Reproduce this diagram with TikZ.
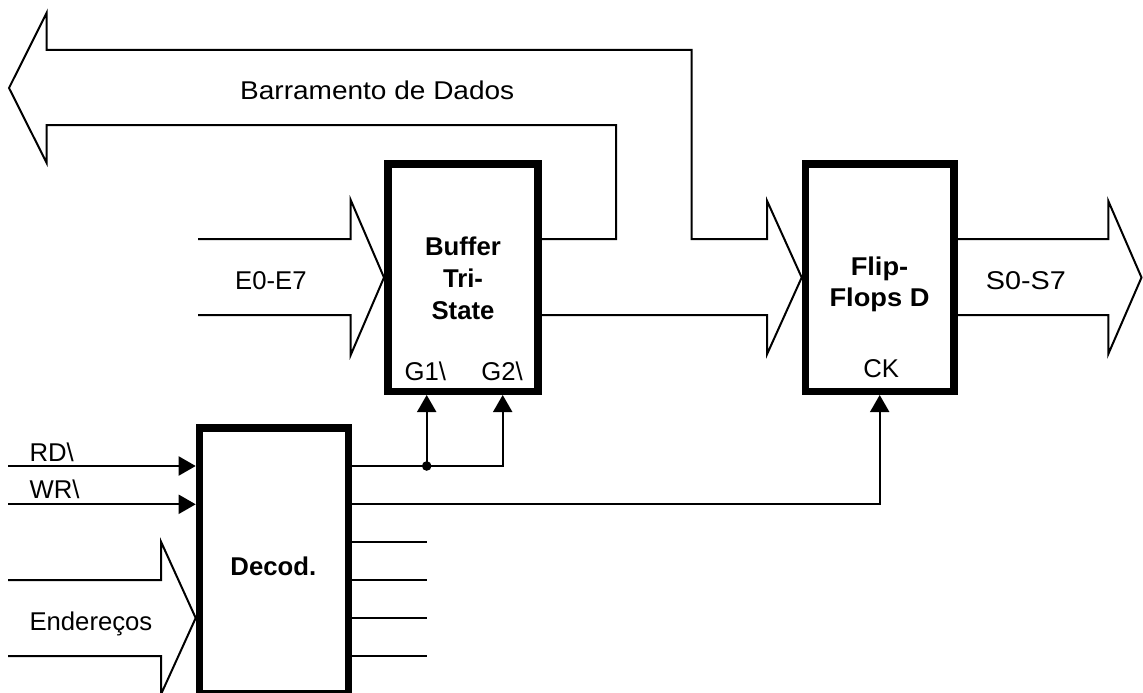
\documentclass[tikz,border=0pt]{standalone}
\usepackage{fontspec}
\setmainfont{Liberation Sans}
\usetikzlibrary{arrows.meta}
\begin{document}
\begin{tikzpicture}[x=1pt,y=-1pt,
  box/.style={draw,line width=7.5pt,inner sep=0pt},
  wire/.style={line width=2pt},
  bus/.style={line width=2pt,line join=miter},
  sig/.style={line width=2pt,-{Triangle[length=17pt,width=19pt]}},
  lbl/.style={inner sep=0pt,font=\fontsize{25.7}{31.7}\selectfont},
  blbl/.style={inner sep=0pt,align=center,font=\fontsize{25.7}{31.7}\selectfont\bfseries},
  wide/.style={xscale=#1,transform shape}]
\useasboundingbox (0,0) rectangle (1143,693);
% blocks
\node[box,minimum width=150.2pt,minimum height=227.5pt] (buf) at (462.85,277.5) {};
\node[box,minimum width=148.5pt,minimum height=227.5pt] (ff) at (879.7,277.5) {};
\node[box,minimum width=149.1pt,minimum height=266pt] (dec) at (274,561) {};
% block texts
\node[blbl,anchor=north] (buftxt) at (463,237) {Buffer\\Tri-\\State};
\node[blbl,anchor=north,wide=1.06] (fftxt) at (879.5,256.4) {Flip-\\Flops D};
\node[blbl,anchor=base] (dectxt) at (273.3,575) {Decod.};
\node[lbl,anchor=base] (g1) at (425.3,380) {G1\textbackslash};
\node[lbl,anchor=base] (g2) at (502,380) {G2\textbackslash};
\node[lbl,anchor=base] (ck) at (881.2,377) {CK};
% data bus (from buffer, to the left, and back into the flip-flops)
\draw[bus] (buf.east |- 0,239) -- (616,239) -- (616,125) -- (46.7,125) -- (46.7,163)
  -- (9,88) -- (46.7,12.7) -- (46.7,50) -- (691.7,50) -- (691.7,239) -- (767,239)
  -- (767,200.7) -- (ff.west) -- (767,354.3) -- (767,315) -- (buf.east |- 0,315);
\node[lbl,anchor=base west,wide=1.09] (bustxt) at (240,99.3) {Barramento de Dados};
% E0-E7 input bus
\coordinate (ein) at (198,277);
\draw[bus] (ein |- 0,239) -- (350.7,239) -- (350.7,200) -- (buf.west) -- (350.7,355)
  -- (350.7,315) -- (ein |- 0,315);
\node[lbl,anchor=base west] (etxt) at (235,289.3) {E0-E7};
% S0-S7 output bus
\coordinate (stip) at (1141.5,277.5);
\draw[bus] (ff.east |- 0,239) -- (1108.3,239) -- (1108.3,201) -- (stip) -- (1108.3,354)
  -- (1108.3,315) -- (ff.east |- 0,315);
\node[lbl,anchor=base west,wide=1.12] (stxt) at (985.7,289) {S0-S7};
% address bus
\coordinate (ain) at (8,618);
\draw[bus] (ain |- 0,580) -- (161,580) -- (161,541.7) -- (dec.west |- ain) -- (161,694.3)
  -- (161,656) -- (ain |- 0,656);
\node[lbl,anchor=base west] (atxt) at (29.3,630) {Endereços};
% RD / WR
\coordinate (rd) at (8,466);
\coordinate (wr) at (8,504.3);
\draw[sig] (rd) -- (dec.west |- rd);
\draw[sig] (wr) -- (dec.west |- wr);
\node[lbl,anchor=base west] (rdtxt) at (29.3,461.7) {RD\textbackslash};
\node[lbl,anchor=base west] (wrtxt) at (29.3,498.3) {WR\textbackslash};
% decoder outputs
\coordinate (j) at (426.7,466);
\draw[sig] (dec.east |- j) -| (buf.south -| 502.7,0);
\draw[sig] (j) -- (buf.south -| j);
\fill (j) circle (4.8pt);
\draw[sig] (dec.east |- wr) -| (ff.south);
\foreach \yy in {542.3,580,618.3,656}
  \draw[wire] (dec.east |- 0,\yy) -- (426.7,\yy);
\end{tikzpicture}
\end{document}
